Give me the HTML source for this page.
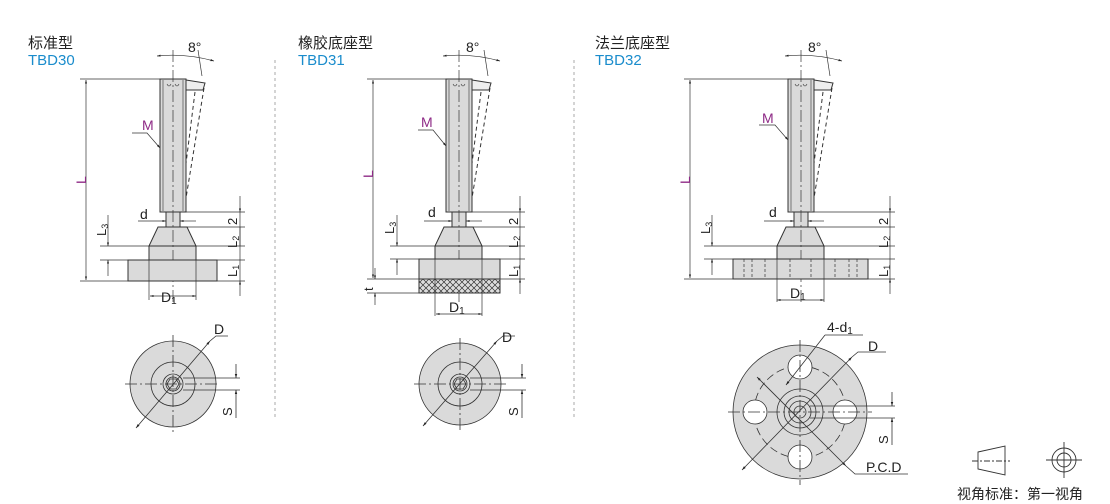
<!DOCTYPE html>
<html><head><meta charset="utf-8"><style>
html,body{margin:0;padding:0;background:#fff;width:1110px;height:504px;overflow:hidden}
svg{display:block}
text{font-family:"Liberation Sans","Noto Sans CJK SC",sans-serif}
</style></head><body>
<svg width="1110" height="504" viewBox="0 0 1110 504" xmlns="http://www.w3.org/2000/svg">
<defs>
<marker id="a" viewBox="0 0 10 10" refX="10" refY="5" markerWidth="7" markerHeight="5" orient="auto-start-reverse"><path d="M0,2 L10,5 L0,8 z" fill="#222"/></marker>
<pattern id="kn" width="6" height="6" patternUnits="userSpaceOnUse"><rect width="6" height="6" fill="#ddd"/><path d="M0,0L6,6M6,0L0,6" stroke="#333" stroke-width="0.7"/></pattern>
<g id="stud" stroke="#333" stroke-width="1">
  <path d="M186,80 L205,83 L203,90 L186,90" fill="#eee"/>
  <path d="M204,88 L186,198 M195,92 L182,195" fill="none" stroke-dasharray="4,3"/>
  <rect x="160" y="79" width="26" height="133" fill="#dadada"/>
  <path d="M163,80V211 M183,80V211" fill="none" stroke-width="0.6"/>
  <path d="M167,84 q2,4 4,0 M175,84 q2,4 4,0" fill="none" stroke-width="0.6"/>
  <rect x="166" y="212" width="14" height="15" fill="#dadada"/>
  <path d="M158,227 L187,227 L196,246 L149,246 z" fill="#dadada"/>
  <rect x="149" y="246" width="47" height="14" fill="#dadada"/>
  <path d="M173,50 V305" stroke="#333" stroke-width="0.7" stroke-dasharray="12,3,2,3" fill="none"/>
  <path d="M198,50 L202,76" stroke-width="0.7" fill="none"/>
  <path d="M157,56 Q185,53 214,61" fill="none" stroke-width="0.7" marker-start="url(#a)" marker-end="url(#a)"/>
</g>
</defs>

<!-- dividers -->
<path d="M275,60V420 M574,60V420" stroke="#aaa" stroke-dasharray="3,3"/>

<!-- titles -->
<g font-size="15" fill="#222">
<text x="28" y="48">标准型</text><text x="298" y="48">橡胶底座型</text><text x="595" y="48">法兰底座型</text>
</g>
<g font-size="15" fill="#1a8ccc">
<text x="28" y="65">TBD30</text><text x="298" y="65">TBD31</text><text x="595" y="65">TBD32</text>
</g>

<!-- ===== Drawing 1 ===== -->
<use href="#stud"/>
<rect x="128" y="260" width="89" height="21" fill="#dadada" stroke="#333"/>
<path d="M149,260V300 M196,260V300" stroke="#333" stroke-width="0.7"/>
<g stroke="#333" stroke-width="0.7" fill="none">
<path d="M80,79H160 M80,281H128 M100,246H149 M100,260H149 M186,212H245 M180,227H245 M196,246H245 M217,260H245 M217,281H245"/>
<path d="M86,80V280" marker-start="url(#a)" marker-end="url(#a)"/>
<path d="M108,215V246" marker-end="url(#a)"/><path d="M108,276V260" marker-end="url(#a)"/>
<path d="M240,196V212" marker-end="url(#a)"/><path d="M240,212V246"/><path d="M240,296V281" marker-end="url(#a)"/><path d="M240,227V281"/>
<path d="M138,221H166" marker-end="url(#a)"/><path d="M196,221H180" marker-end="url(#a)"/>
<path d="M150,296H196" marker-start="url(#a)" marker-end="url(#a)"/>
<path d="M132,133H147 L160,148" marker-end="url(#a)"/>
</g>
<text x="188" y="52" font-size="14" fill="#222">8°</text>
<text x="142" y="130" font-size="14" fill="#8e2a86">M</text>
<text x="140" y="219" font-size="14" fill="#222">d</text>
<text x="161" y="302" font-size="14" fill="#222">D<tspan font-size="10" dy="2">1</tspan></text>
<text font-size="14" fill="#8e2a86" transform="translate(86,184) rotate(-90)">L</text>
<text font-size="13" fill="#222" transform="translate(106,236) rotate(-90)">L<tspan font-size="9" dy="2">3</tspan></text>
<text font-size="13" fill="#222" transform="translate(237,225) rotate(-90)">2</text>
<text font-size="13" fill="#222" transform="translate(237,248) rotate(-90)">L<tspan font-size="9" dy="2">2</tspan></text>
<text font-size="13" fill="#222" transform="translate(237,277) rotate(-90)">L<tspan font-size="9" dy="2">1</tspan></text>
<!-- bottom view 1 -->
<g stroke="#333" stroke-width="0.8" fill="none">
<circle cx="173" cy="384" r="43" fill="#dadada"/>
<circle cx="173" cy="384" r="22"/><circle cx="173" cy="384" r="10"/><circle cx="173" cy="384" r="7"/>
<path d="M167,384 l3,-5 h6 l3,5 l-3,5 h-6 z"/>
<path d="M125,384H220 M173,335V432" stroke-dasharray="12,3,2,3"/>
<path d="M136,428 L210,341" marker-start="url(#a)" marker-end="url(#a)"/>
<path d="M210,341 L216,336 H228"/>
<path d="M183,378H240 M183,390H240"/>
<path d="M236,364V378" marker-end="url(#a)"/><path d="M236,405V390" marker-end="url(#a)"/><path d="M236,405V418"/>
</g>
<text x="214" y="334" font-size="14" fill="#222">D</text>
<text font-size="13" fill="#222" transform="translate(232,416) rotate(-90)">S</text>

<!-- ===== Drawing 2 ===== -->
<use href="#stud" transform="translate(286,0)"/>
<rect x="419" y="259" width="81" height="20" fill="#dadada" stroke="#333"/>
<rect x="419" y="279" width="81" height="14" fill="url(#kn)" stroke="#333"/>
<path d="M435,259V316 M482,259V316" stroke="#333" stroke-width="0.7"/>
<g stroke="#333" stroke-width="0.7" fill="none">
<path d="M367,79H446 M367,279H419 M367,293H419 M390,246H435 M390,259H435 M472,212H525 M466,227H525 M482,246H525 M500,259H525 M500,279H525"/>
<path d="M373,80V278" marker-start="url(#a)" marker-end="url(#a)"/>
<path d="M375,268V279" marker-end="url(#a)"/><path d="M375,305V293" marker-end="url(#a)"/>
<path d="M397,215V246" marker-end="url(#a)"/><path d="M397,275V259" marker-end="url(#a)"/>
<path d="M520,196V212" marker-end="url(#a)"/><path d="M520,212V279"/><path d="M520,294V279" marker-end="url(#a)"/>
<path d="M424,221H452" marker-end="url(#a)"/><path d="M482,221H466" marker-end="url(#a)"/>
<path d="M436,314H482" marker-start="url(#a)" marker-end="url(#a)"/>
<path d="M418,130H433 L446,146" marker-end="url(#a)"/>
</g>
<text x="466" y="52" font-size="14" fill="#222">8°</text>
<text x="421" y="127" font-size="14" fill="#8e2a86">M</text>
<text x="428" y="217" font-size="14" fill="#222">d</text>
<text x="449" y="312" font-size="14" fill="#222">D<tspan font-size="10" dy="2">1</tspan></text>
<text font-size="14" fill="#8e2a86" transform="translate(373,178) rotate(-90)">L</text>
<text font-size="13" fill="#222" transform="translate(394,234) rotate(-90)">L<tspan font-size="9" dy="2">3</tspan></text>
<text font-size="13" fill="#222" transform="translate(373,291) rotate(-90)">t</text>
<text font-size="13" fill="#222" transform="translate(518,225) rotate(-90)">2</text>
<text font-size="13" fill="#222" transform="translate(518,248) rotate(-90)">L<tspan font-size="9" dy="2">2</tspan></text>
<text font-size="13" fill="#222" transform="translate(518,277) rotate(-90)">L<tspan font-size="9" dy="2">1</tspan></text>
<!-- bottom view 2 -->
<g stroke="#333" stroke-width="0.8" fill="none">
<circle cx="460" cy="384" r="41" fill="#dadada"/>
<circle cx="460" cy="384" r="22"/><circle cx="460" cy="384" r="10"/><circle cx="460" cy="384" r="7"/>
<path d="M454,384 l3,-5 h6 l3,5 l-3,5 h-6 z"/>
<path d="M414,384H506 M460,338V430" stroke-dasharray="12,3,2,3"/>
<path d="M423,426 L497,341" marker-start="url(#a)" marker-end="url(#a)"/>
<path d="M497,341 L503,336 H515"/>
<path d="M470,378H526 M470,390H526"/>
<path d="M522,364V378" marker-end="url(#a)"/><path d="M522,405V390" marker-end="url(#a)"/><path d="M522,405V418"/>
</g>
<text x="502" y="342" font-size="14" fill="#222">D</text>
<text font-size="13" fill="#222" transform="translate(518,416) rotate(-90)">S</text>

<!-- ===== Drawing 3 ===== -->
<use href="#stud" transform="translate(628,0)"/>
<rect x="733" y="259" width="135" height="20" fill="#dadada" stroke="#333"/>
<path d="M744,259V279 M752,259V279 M765,259V279 M790,259V279 M811,259V279 M835,259V279 M849,259V279 M857,259V279" stroke="#333" stroke-width="0.7" stroke-dasharray="3,2"/>
<path d="M777,259V302 M824,259V302" stroke="#333" stroke-width="0.7"/>
<g stroke="#333" stroke-width="0.7" fill="none">
<path d="M684,79H788 M684,279H733 M704,246H777 M704,259H733 M814,212H895 M808,227H895 M823,246H895 M868,259H895 M868,279H895"/>
<path d="M690,80V278" marker-start="url(#a)" marker-end="url(#a)"/>
<path d="M712,215V246" marker-end="url(#a)"/><path d="M712,275V259" marker-end="url(#a)"/>
<path d="M890,196V212" marker-end="url(#a)"/><path d="M890,212V279"/><path d="M890,294V279" marker-end="url(#a)"/>
<path d="M764,221H794" marker-end="url(#a)"/><path d="M824,221H808" marker-end="url(#a)"/>
<path d="M777,300H824" marker-start="url(#a)" marker-end="url(#a)"/>
<path d="M759,125H775 L788,140" marker-end="url(#a)"/>
</g>
<text x="808" y="52" font-size="14" fill="#222">8°</text>
<text x="762" y="123" font-size="14" fill="#8e2a86">M</text>
<text x="769" y="217" font-size="14" fill="#222">d</text>
<text x="790" y="298" font-size="14" fill="#222">D<tspan font-size="10" dy="2">1</tspan></text>
<text font-size="14" fill="#8e2a86" transform="translate(690,184) rotate(-90)">L</text>
<text font-size="13" fill="#222" transform="translate(710,234) rotate(-90)">L<tspan font-size="9" dy="2">3</tspan></text>
<text font-size="13" fill="#222" transform="translate(888,225) rotate(-90)">2</text>
<text font-size="13" fill="#222" transform="translate(888,248) rotate(-90)">L<tspan font-size="9" dy="2">2</tspan></text>
<text font-size="13" fill="#222" transform="translate(888,277) rotate(-90)">L<tspan font-size="9" dy="2">1</tspan></text>
<!-- bottom view 3 -->
<g stroke="#333" stroke-width="0.8" fill="none">
<circle cx="800" cy="412" r="67" fill="#dadada"/>
<circle cx="800" cy="412" r="46" stroke-dasharray="8,4"/>
<circle cx="800" cy="367" r="12" fill="#fff"/><circle cx="800" cy="457" r="12" fill="#fff"/>
<circle cx="755" cy="412" r="12" fill="#fff"/><circle cx="845" cy="412" r="12" fill="#fff"/>
<circle cx="800" cy="412" r="23"/><circle cx="800" cy="412" r="16"/><circle cx="800" cy="412" r="11"/><circle cx="800" cy="412" r="6"/>
<path d="M728,412H872 M800,340V485" stroke-dasharray="12,3,2,3"/>
<path d="M742,470 L852,357" marker-start="url(#a)" marker-end="url(#a)"/>
<path d="M852,357 L858,352 H886"/>
<path d="M786,385 L825,335" marker-start="url(#a)"/><path d="M825,335 H863"/>
<path d="M757,377 L846,466" marker-start="url(#a)" marker-end="url(#a)"/>
<path d="M846,466 L855,474 H908"/>
<path d="M810,406H895 M810,418H895"/>
<path d="M892,392V406" marker-end="url(#a)"/><path d="M892,432V418" marker-end="url(#a)"/><path d="M892,432V445"/>
</g>
<text x="827" y="332" font-size="14" fill="#222">4-d<tspan font-size="10" dy="2">1</tspan></text>
<text x="868" y="351" font-size="14" fill="#222">D</text>
<text x="866" y="472" font-size="14" fill="#222">P.C.D</text>
<text font-size="13" fill="#222" transform="translate(888,444) rotate(-90)">S</text>

<!-- legend -->
<g stroke="#333" stroke-width="0.9" fill="none">
<path d="M978,452 L1005,446 V475 L978,469 z" fill="#fff"/>
<path d="M972,461H1010" stroke-dasharray="6,2,2,2"/>
<circle cx="1064" cy="460" r="12"/><circle cx="1064" cy="460" r="7"/>
<path d="M1046,460H1082 M1064,442V478"/>
</g>
<text x="957" y="499" font-size="14" fill="#222">视角标准：第一视角</text>
</svg>
</body></html>
